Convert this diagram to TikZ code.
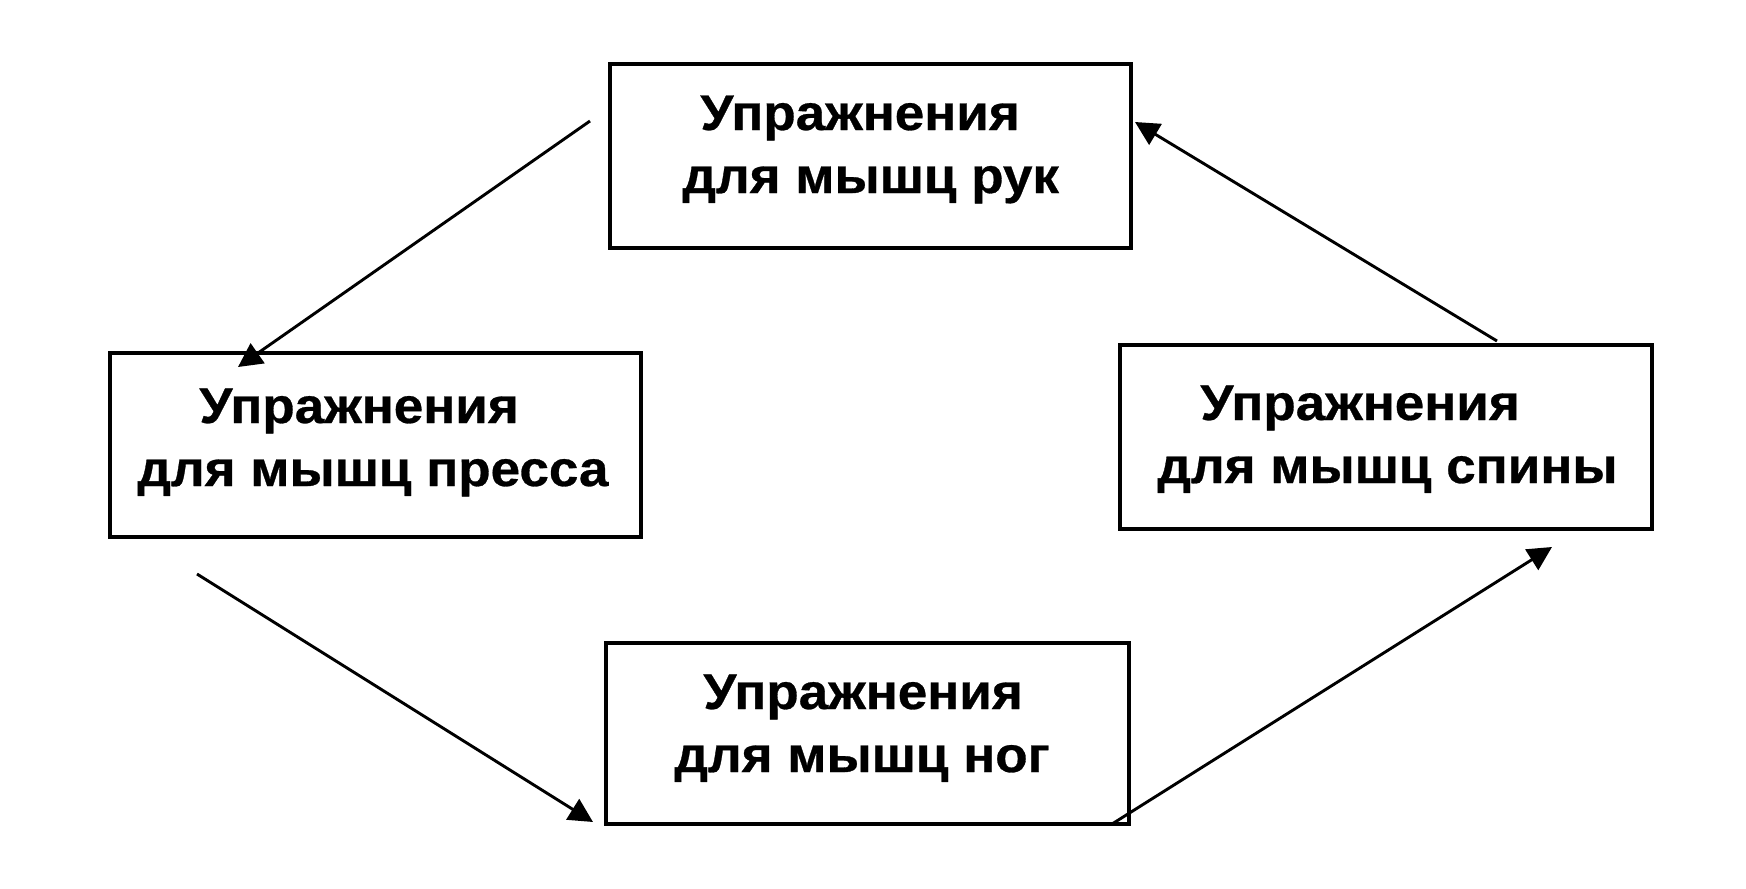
\documentclass[tikz,border=0pt]{standalone}
\usepackage{fontspec}
\setmainfont{Liberation Sans}
\newfontfamily\lblfont[FakeStretch=1.06,FakeBold=0.6]{Liberation Sans Bold}
\usetikzlibrary{arrows.meta}
\begin{document}
\begin{tikzpicture}[x=0.5pt,y=-0.5pt,
  box/.style={draw=black, line width=1.7pt, inner sep=0pt, minimum height=92pt},
  lbl/.style={inner sep=0pt, anchor=base west, align=left,
              font={\lblfont\fontsize{25pt}{31.5pt}\selectfont}},
  link/.style={draw=black, line width=1.45pt, -{Triangle[length=12pt,width=12pt]}}
]
\useasboundingbox[fill=white] (0,0) rectangle (1746,889);

% boxes
\node[box, minimum width=260.5pt] (ruk)   at (870.5,156)   {};
\node[box, minimum width=265.5pt] (press) at (375.5,445)   {};
\node[box, minimum width=266pt]   (spina) at (1386,437)    {};
\node[box, minimum width=261.5pt, minimum height=90.5pt] (nog) at (867.5,733.5) {};

% labels (anchored at the baseline of the second line)
\node[lbl] (truk)   at (682,193)  {\hspace*{9pt}Упражнения\\для мышц рук};
\node[lbl] (tpress) at (137,486)  {\hspace*{31pt}Упражнения\\для мышц пресса};
\node[lbl] (tspina) at (1157,483) {\hspace*{21.5pt}Упражнения\\для мышц спины};
\node[lbl] (tnog)   at (674,772)  {\hspace*{14.5pt}Упражнения\\для мышц ног};

% arrow ends
\coordinate (a1s) at (590,121);  \coordinate (a1e) at (238,367);
\coordinate (a2s) at (197,574);  \coordinate (a2e) at (593,822);
\coordinate (a3s) at (1112,824); \coordinate (a3e) at (1552,547);
\coordinate (a4s) at (1497,341); \coordinate (a4e) at (1135,122);

\draw[link] (a1s) -- (a1e);
\draw[link] (a2s) -- (a2e);
\draw[link] (a3s) -- (a3e);
\draw[link] (a4s) -- (a4e);
\end{tikzpicture}
\end{document}
